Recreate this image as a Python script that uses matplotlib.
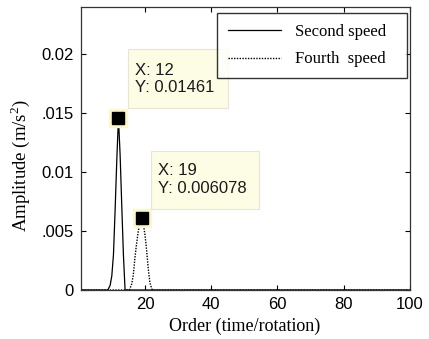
import matplotlib
matplotlib.use('Agg')
import matplotlib.pyplot as plt
from matplotlib.patches import Rectangle

# order axis and amplitudes
order_second = [1, 8.8, 9.5, 10, 10.5, 11, 11.5, 12, 12.5, 13, 13.5, 14, 100]
amp_second = [0, 0, 0.0004, 0.0012, 0.003, 0.0068, 0.011, 0.01461, 0.0115, 0.0072, 0.003, 0, 0]

order_fourth = [1, 15.3, 16, 16.5, 17, 17.5, 18, 18.5, 19, 19.5, 20, 20.5, 21, 21.5, 22.2, 100]
amp_fourth = [0, 0, 0.0005, 0.0013, 0.0028, 0.0040, 0.0050, 0.0058, 0.006078, 0.0056, 0.0047,
              0.0034, 0.0018, 0.0006, 0, 0]

tips_x = [12, 19]
tips_y = [0.01461, 0.006078]
tip_labels = ['X: 12\nY: 0.01461', 'X: 19\nY: 0.006078']

yticks = [0, 0.005, 0.01, 0.015, 0.02]
ytick_labels = ['0', '.005', '0.01', '.015', '0.02']
xticks = [20, 40, 60, 80, 100]

serif = ['Liberation Serif', 'DejaVu Serif']
sans = ['Liberation Sans', 'DejaVu Sans']
plt.rcParams['mathtext.fontset'] = 'custom'
plt.rcParams['mathtext.rm'] = 'Liberation Serif'

fig = plt.figure(figsize=(4.29, 3.39), dpi=100)
ax = fig.add_axes([81 / 429, 49 / 339, 329 / 429, 283 / 339])

ax.plot(order_second, amp_second, color='black', lw=0.9, label='Second speed')
ax.plot(order_fourth, amp_fourth, color='black', lw=1.0, ls=(0, (1, 1)), label='Fourth  speed')

# datatip markers with the pale halo
ax.plot(tips_x, tips_y, ls='none', marker='s', ms=13.5, color='#fbf7c8', zorder=4)
ax.plot(tips_x, tips_y, ls='none', marker='s', ms=8.6, color='black', zorder=5)

# datatip boxes (axes fraction)
boxes = [(0.143, 0.643, 0.304, 0.209), (0.213, 0.286, 0.328, 0.205)]
text_pos = [(0.164, 0.745), (0.234, 0.390)]
for (bx, by, bw, bh), (tx, ty), lab in zip(boxes, text_pos, tip_labels):
    ax.add_patch(Rectangle((bx, by), bw, bh, transform=ax.transAxes, facecolor='#fdfde6',
                           edgecolor='#e6e6d6', lw=0.8, zorder=6))
    ax.text(tx, ty, lab, transform=ax.transAxes, ha='left', va='center', fontsize=12,
            family=sans, color='#1a1a1a', linespacing=1.2, zorder=7)

ax.set_xlim(0.7, 100)
ax.set_ylim(0, 0.024)
ax.set_xticks(xticks)
ax.set_xticklabels([str(t) for t in xticks], family=sans, fontsize=12)
ax.set_yticks(yticks)
ax.set_yticklabels(ytick_labels, family=sans, fontsize=12)
ax.tick_params(direction='in', length=3.5, width=0.8, top=True, right=True, pad=5)
for s in ax.spines.values():
    s.set_linewidth(0.9)
    s.set_color('#333333')

ax.set_xlabel('Order (time/rotation)', family=serif, fontsize=13)
ax.set_ylabel('Amplitude (m/s$^2$)', family=serif, fontsize=13.5)
ax.xaxis.set_label_coords(0.497, -0.097)
ax.yaxis.set_label_coords(-0.149, 0.44)

leg = ax.legend(loc='upper left', bbox_to_anchor=(0.413, 0.749, 0.578, 0.23), mode='expand',
                prop={'family': serif, 'size': 12}, frameon=True, fancybox=False,
                handlelength=3.2, handletextpad=0.85, borderpad=0.65, labelspacing=0.7,
                borderaxespad=0)
leg.get_frame().set_edgecolor('black')
leg.get_frame().set_linewidth(1.0)
leg.set_zorder(8)

fig.savefig('out.png', dpi=100)
